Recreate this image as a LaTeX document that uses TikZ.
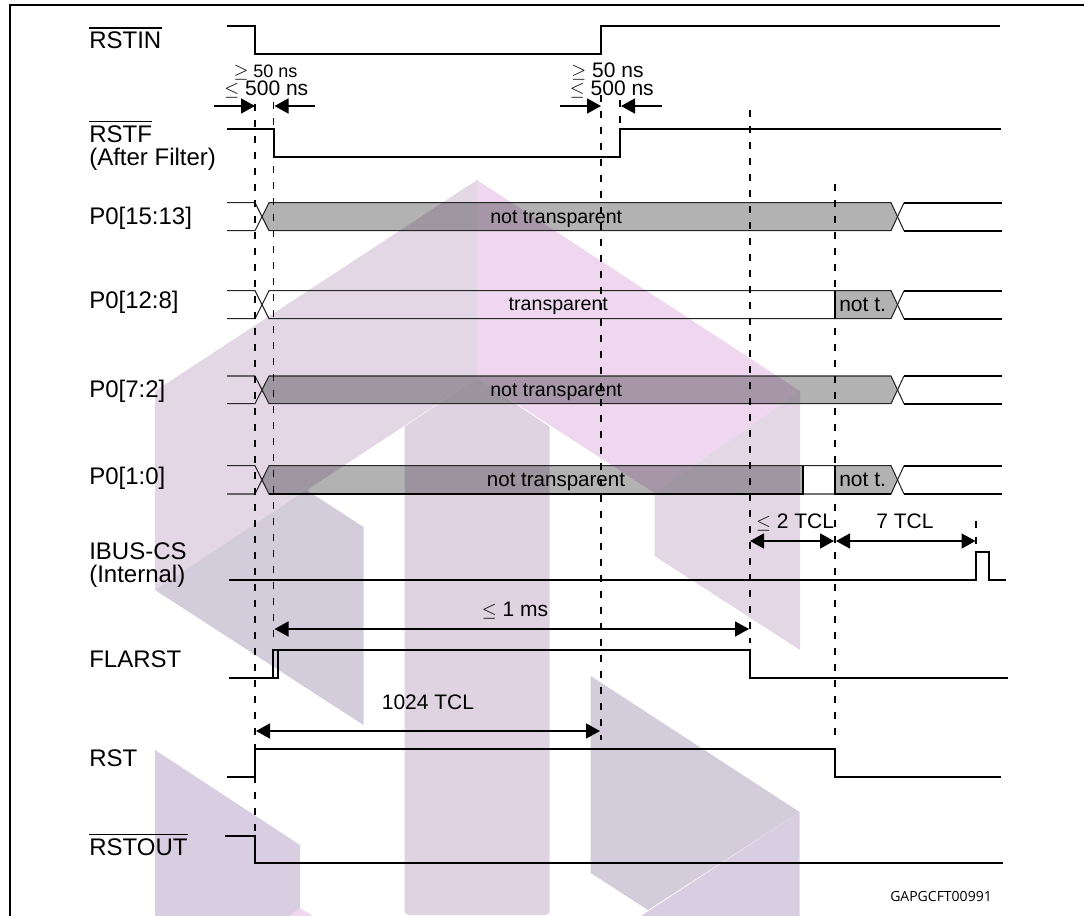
\documentclass[tikz,border=0pt]{standalone}
\usepackage{fontspec}
\setmainfont{Liberation Sans}
\newfontfamily\codefont{Open Sans}
\usetikzlibrary{arrows.meta}

\definecolor{wmleft}{HTML}{E3D7E6}
\definecolor{wmpink}{HTML}{F0D7F0}
\definecolor{wmmid}{HTML}{DFD3E1}
\definecolor{wmgrey}{HTML}{D3CDDB}
\definecolor{wmlow}{HTML}{D9CEE1}

\tikzset{
  sigline/.style={line width=1.25pt,line join=miter},
  busline/.style={line width=0.8pt,black!85},
  busfill/.style={fill=black,fill opacity=0.3},
  timedash/.style={line width=1.25pt,dash pattern=on 5.25pt off 6.75pt},
  dimarrow/.style={line width=1.25pt,>={Triangle[length=10.5pt,width=11.25pt]}},
  siglabel/.style={anchor=base west,inner sep=0pt,font=\fontsize{18}{20}\selectfont},
  timelabel/.style={anchor=base,inner sep=0pt,font=\fontsize{15.75}{18}\selectfont},
  buslabel/.style={anchor=base,inner sep=0pt,font=\fontsize{14.7}{18}\selectfont},
}

\begin{document}
\begin{tikzpicture}[x=0.75pt,y=-0.75pt]
\useasboundingbox (0,0) rectangle (1084,916);

% Watermark
\fill[wmleft] (155,391) -- (477,180) -- (477,378) -- (155,590) -- cycle;
\fill[wmpink] (477,180) -- (800,391) -- (654.5,493) -- (477,378) -- cycle;
\fill[wmleft] (654.5,493) -- (800,391) -- (800,650) -- (654.5,556) -- cycle;
\fill[wmgrey] (155,590) -- (306.5,490) -- (363.5,527) -- (363.5,725) -- cycle;
\fill[wmmid] (477,378) -- (549.6,426.7) [rounded corners=3pt] -- (549.6,915) -- (404.5,915) [sharp corners] -- (404.5,426.7) -- cycle;
\fill[wmgrey] (590.7,676) -- (799.6,812) -- (648,910) -- (590.7,873) -- cycle;
\fill[wmlow] (799.6,812) -- (799.6,916) -- (641,916) -- cycle;
\fill[wmlow] (155,750) -- (300,845) -- (300,908) -- (290,916) -- (155,916) -- cycle;
\fill[wmpink] (300,908) -- (313,916) -- (290,916) -- cycle;

% Frame
\draw[line width=1.5pt] (10,916) -- (10,5.5) -- (1084,5.5);

% Bus data
\fill[busfill] (262,216.7) -- (269,202.7) -- (891,202.7) -- (897.5,216.7) -- (891,230.7) -- (269,230.7) -- cycle;
\fill[busfill] (835,290.7) -- (891,290.7) -- (897.5,304.7) -- (891,318.7) -- (835,318.7) -- cycle;
\fill[busfill] (262,389.8) -- (269,376) -- (891,376) -- (897.5,389.8) -- (891,403.7) -- (269,403.7) -- cycle;
\fill[busfill] (262,479.8) -- (269,465.7) -- (803,465.7) -- (803,494) -- (269,494) -- cycle;
\fill[busfill] (835,465.7) -- (891,465.7) -- (897.5,479.8) -- (891,494) -- (835,494) -- cycle;

% Bus lines and crossings
\foreach \ya/\yb in {202.7/230.7,290.7/318.7,376/403.7,465.7/494} {
\draw[busline] (227,\ya) -- (255,\ya) -- (269,\yb) -- (891,\yb) -- (904,\ya);
\draw[busline] (227,\yb) -- (255,\yb) -- (269,\ya) -- (891,\ya) -- (904,\yb);
\draw[sigline] (904,\ya) -- (1002,\ya);
\draw[sigline] (904,\yb) -- (1002,\yb);
}

% Bus edges in front
\draw[sigline] (835,290.7) -- (835,318.7);
\draw[sigline] (269,494) -- (803,494) -- (803,465.7);
\draw[sigline] (835,465.7) -- (835,494) -- (891,494);

% Signals
\draw[sigline] (227,25.7) -- (255,25.7) -- (255,53.7) -- (601,53.7) -- (601,25.7) -- (1000,25.7);
\draw[sigline] (227,128.7) -- (274,128.7) -- (274,156.7) -- (620,156.7) -- (620,128.7) -- (1001,128.7);
\draw[sigline] (229,580) -- (976,580) -- (976,552) -- (989.3,552) -- (989.3,580) -- (1006,580);
\draw[sigline] (229,677.7) -- (278,677.7) -- (278,650);
\draw[sigline] (273,677.7) -- (273,650) -- (750,650) -- (750,677.7) -- (1008,677.7);
\draw[sigline] (227,776.7) -- (255,776.7) -- (255,749) -- (835,749) -- (835,776.7) -- (1001,776.7);
\draw[sigline] (225,835.7) -- (255,835.7) -- (255,863) -- (1003,863);

% Time marks
\draw[timedash] (255,104) -- (255,832);
\draw[timedash] (273.5,102) -- (273.5,642);
\draw[timedash] (601,95) -- (601,740);
\draw[timedash] (620,100) -- (620,128);
\draw[timedash] (750,110) -- (750,643);
\draw[timedash] (835,184) -- (835,740);
\draw[timedash] (976,521) -- (976,552);

% Arrows
\draw[dimarrow,->] (214,106) -- (255,106);
\draw[dimarrow,->] (315,106) -- (274.5,106);
\draw[dimarrow,->] (560,106) -- (601,106);
\draw[dimarrow,->] (662,106) -- (621,106);
\draw[dimarrow,<->] (750,541) -- (834,541);
\draw[dimarrow,<->] (836,541) -- (975.5,541);
\draw[dimarrow,<->] (274.5,629) -- (749,629);
\draw[dimarrow,<->] (256,731) -- (600,731);

% Signal names
\node[siglabel] (lblrstin) at (89,49) {RSTIN};
\node[siglabel] (lblrstf) at (89,142.3) {RSTF};
\node[siglabel] (lblfilter) at (89,165.7) {(After Filter)};
\node[siglabel] (lblbusa) at (89,224) {P0[15:13]};
\node[siglabel] (lblbusb) at (89,308) {P0[12:8]};
\node[siglabel] (lblbusc) at (89,397) {P0[7:2]};
\node[siglabel] (lblbusd) at (89,484) {P0[1:0]};
\node[siglabel] (lblibus) at (89,559.3) {IBUS-CS};
\node[siglabel] (lblinternal) at (89,582.7) {(Internal)};
\node[siglabel] (lblflarst) at (89,667.7) {FLARST};
\node[siglabel] (lblrst) at (89,766.7) {RST};
\node[siglabel] (lblrstout) at (89,855.7) {RSTOUT};

% Bars over active low names
\foreach \name in {lblrstin,lblrstf,lblrstout} {
\draw[line width=1pt] ([yshift=15.8pt]\name.base west) -- ([yshift=15.8pt]\name.base east);
}

% Bus texts
\node[buslabel] (txtbusa) at (556.2,223.3) {not transparent};
\node[buslabel] (txtbusb) at (558.3,310.7) {transparent};
\node[buslabel] (txtbusc) at (556.2,396.7) {not transparent};
\node[buslabel,font=\fontsize{15.4}{18}\selectfont] (txtbusd) at (556,486.7) {not transparent};
\node[buslabel,font=\fontsize{15.75}{18}\selectfont] (txtnotb) at (862.6,311) {not t.};
\node[buslabel,font=\fontsize{15.75}{18}\selectfont] (txtnotd) at (862.6,486.7) {not t.};

% Time texts
\node[timelabel,font=\fontsize{13.5}{16}\selectfont] (txtgea) at (265.5,77.7) {$\geq$ 50 ns};
\node[timelabel] (txtlea) at (266.3,96) {$\leq$ 500 ns};
\node[timelabel] (txtgeb) at (607.5,77.7) {$\geq$ 50 ns};
\node[timelabel] (txtleb) at (611.8,96) {$\leq$ 500 ns};
\node[timelabel] (txtletwo) at (795,528) {$\leq$ 2 TCL};
\node[timelabel] (txtseven) at (905,528) {7 TCL};
\node[timelabel] (txtlems) at (515,616) {$\leq$ 1 ms};
\node[timelabel] (txtcount) at (428,709) {1024 TCL};

\node[anchor=base,inner sep=0pt,font=\codefont\fontsize{10.5}{12}\selectfont] (txtcode) at (941,901.7) {GAPGCFT00991};

\end{tikzpicture}
\end{document}
